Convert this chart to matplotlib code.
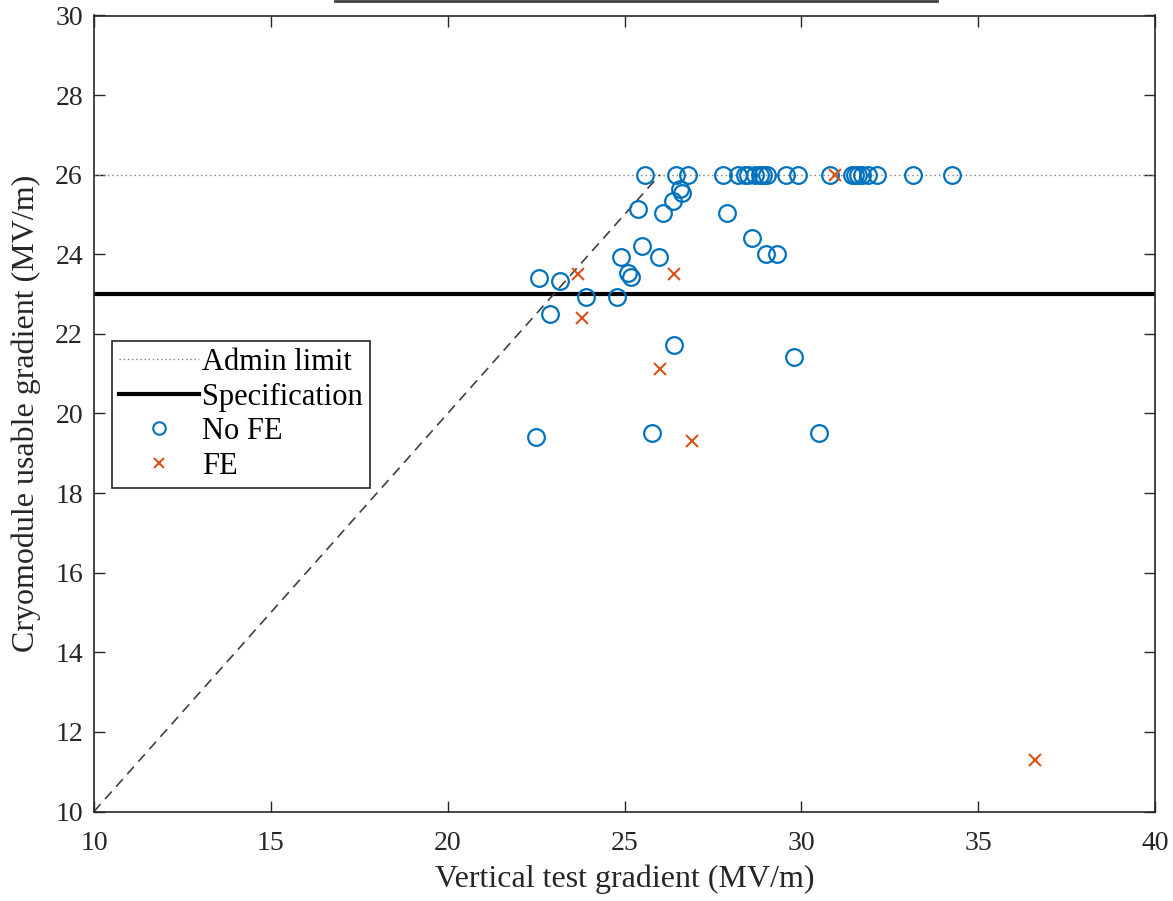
import matplotlib.pyplot as plt
from matplotlib.lines import Line2D

plt.rcParams['font.family'] = ['Liberation Serif', 'DejaVu Serif']

ADMIN_LIMIT = 26.0
SPECIFICATION = 23.0

# cavities without field emission: (vertical test gradient, cryomodule usable gradient)
no_fe_x = [25.58, 26.47, 26.80, 27.79, 28.22, 28.41, 28.50, 28.69, 28.83,
           28.92, 29.02, 29.58, 29.90, 30.81, 31.42, 31.52, 31.61, 31.71,
           31.89, 32.13, 33.16, 34.25,
           26.57, 26.62, 26.38, 25.39, 26.10, 27.89, 28.61, 28.99, 29.30,
           25.50, 24.89, 25.98, 25.09, 25.18, 22.59, 23.19, 23.90, 24.78,
           22.89, 26.39, 29.79, 22.50, 25.78, 30.50]
no_fe_y = [26.0] * 22 + \
          [25.63, 25.55, 25.34, 25.13, 25.03, 25.03, 24.42, 24.02, 24.02,
           24.22, 23.93, 23.92, 23.54, 23.43, 23.41, 23.33, 22.92, 22.92,
           22.51, 21.71, 21.42, 19.40, 19.51, 19.51]

# cavities with field emission
fe_x = [23.68, 26.40, 23.81, 26.01, 26.91, 30.95, 36.60]
fe_y = [23.51, 23.51, 22.40, 21.11, 19.32, 26.0, 11.30]

blue = '#0072BD'
orange = '#D95319'
dark = '#262626'

fig = plt.figure(figsize=(11.73, 9.01), dpi=100)
ax = fig.add_axes([94 / 1173, 1 - 811.5 / 901, 1061 / 1173, 796 / 901])

ax.axhline(ADMIN_LIMIT, color='#7f7f7f', linestyle=(0, (1, 2.2)), linewidth=1.0)
ax.axhline(SPECIFICATION, color='black', linewidth=3.0)
ax.plot([10, ADMIN_LIMIT], [10, ADMIN_LIMIT], color='#404040',
        linestyle=(0, (6, 4)), linewidth=1.2)
ax.plot(no_fe_x, no_fe_y, linestyle='none', marker='o', markersize=12,
        markerfacecolor='none', markeredgecolor=blue, markeredgewidth=1.6)
ax.plot(fe_x, fe_y, linestyle='none', marker='x', markersize=9,
        markeredgecolor=orange, markeredgewidth=1.5)

ax.set_xlim(10, 40)
ax.set_ylim(10, 30)
ax.set_xticks(range(10, 41, 5))
ax.set_yticks(range(10, 31, 2))
ax.tick_params(direction='in', top=True, right=True, length=8, width=1,
               colors=dark, labelsize=20)
ax.tick_params(axis='x', pad=14)
ax.tick_params(axis='y', pad=8)
for s in ax.spines.values():
    s.set_color(dark)
    s.set_linewidth(1.2)

ax.set_xlabel('Vertical test gradient (MV/m)', fontsize=23, color=dark, labelpad=6)
ax.set_ylabel('Cryomodule usable gradient (MV/m)', fontsize=23, color=dark, labelpad=10)

handles = [
    Line2D([], [], color='#7f7f7f', linestyle=(0, (1, 2)), linewidth=1.0),
    Line2D([], [], color='black', linewidth=3.0),
    Line2D([], [], linestyle='none', marker='o', markersize=9,
           markerfacecolor='none', markeredgecolor=blue, markeredgewidth=1.5),
    Line2D([], [], linestyle='none', marker='x', markersize=7,
           markeredgecolor=orange, markeredgewidth=1.5),
]
leg = ax.legend(handles, ['Admin limit', 'Specification', 'No FE', 'FE'],
                loc='upper left', bbox_to_anchor=(17.5 / 1061, 1 - 325 / 796),
                fontsize=22, fancybox=False, framealpha=1, edgecolor=dark,
                handlelength=2.6, handletextpad=0.1, labelspacing=0.18,
                borderpad=0.25, borderaxespad=0)
leg.get_frame().set_linewidth(1.2)

# partial rule at the top edge of the image
fig.add_artist(Line2D([335 / 1173, 937 / 1173], [1 - 1 / 901, 1 - 1 / 901],
                      color='#404040', linewidth=2.0))

fig.savefig('out.png', dpi=100)
